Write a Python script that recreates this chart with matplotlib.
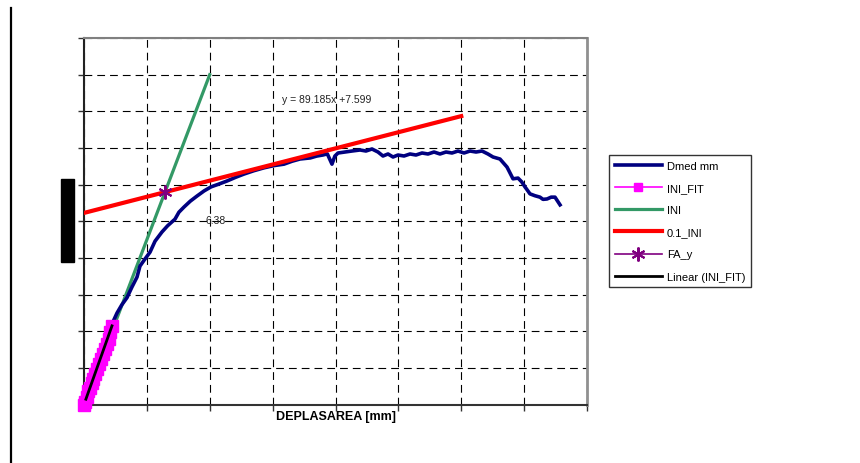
import matplotlib
matplotlib.use("Agg")
import matplotlib.pyplot as plt
from matplotlib.lines import Line2D
from matplotlib.patches import Rectangle

plt.rcParams['font.family'] = ['Liberation Sans', 'DejaVu Sans']

# ---- data (grid units) ----
dmed_x = [0.00, 0.10, 0.22, 0.33, 0.445, 0.525, 0.60, 0.684, 0.76, 0.843, 0.89, 0.96, 1.05,
          1.13, 1.24, 1.33, 1.447, 1.51, 1.590, 1.69, 1.797, 1.91, 2.020, 2.15,
          2.274, 2.41, 2.545, 2.70, 2.863, 3.02, 3.181, 3.31, 3.435, 3.60, 3.70, 3.801, 3.87,
          3.944, 3.99, 4.040, 4.151, 4.262, 4.390, 4.485, 4.580, 4.676, 4.755, 4.835, 4.915,
          4.994, 5.090, 5.185, 5.280, 5.376, 5.471, 5.567, 5.662, 5.757, 5.853, 5.948,
          6.044, 6.139, 6.235, 6.330, 6.425, 6.505,
          6.616, 6.728, 6.823, 6.903, 6.96, 7.014, 7.093, 7.17, 7.252, 7.30, 7.364, 7.43,
          7.491, 7.571]
dmed_y = [0.00, 0.50, 1.05, 1.60, 2.20, 2.50, 2.72, 2.92, 3.20, 3.48, 3.78, 3.95, 4.16,
          4.46, 4.71, 4.88, 5.06, 5.25, 5.39, 5.55, 5.69, 5.83, 5.94, 6.02,
          6.10, 6.20, 6.29, 6.38, 6.46, 6.52, 6.56, 6.64, 6.70, 6.73, 6.78, 6.81, 6.84,
          6.56, 6.78, 6.864, 6.891, 6.918, 6.946, 6.918, 6.973, 6.891, 6.782, 6.837, 6.755,
          6.809, 6.782, 6.837, 6.809, 6.864, 6.837, 6.891, 6.837, 6.891, 6.864, 6.918,
          6.864, 6.918, 6.891, 6.918, 6.837, 6.755,
          6.70, 6.48, 6.16, 6.18, 6.08, 5.94, 5.75, 5.70, 5.66, 5.60, 5.61, 5.66,
          5.66, 5.45]

ini_fit_x = [0.00, 0.02, 0.04, 0.07, 0.09, 0.12, 0.15, 0.18, 0.21, 0.24, 0.27, 0.30,
             0.33, 0.36, 0.39, 0.42, 0.45]
ini_fit_y = [0.00, 0.08, 0.22, 0.36, 0.45, 0.58, 0.70, 0.85, 0.98, 1.10, 1.25, 1.38,
             1.52, 1.66, 1.80, 1.97, 2.15]

ini_x = [0.0, 2.0]
ini_y = [0.0, 9.0]

tenth_x = [0.0, 6.0]
tenth_y = [5.23, 7.87]

fa_x = [1.288]
fa_y = [5.80]

lin_x = [0.03, 0.445]
lin_y = [0.15, 2.15]

eq_text = "y = 89.185x +7.599"
fa_text = "6.38"

# ---- figure ----
fig = plt.figure(figsize=(8.6, 4.64), dpi=100)
ax = fig.add_axes([84/860, 1 - 405.7/464, (587-84)/860, (405.7-39)/464])

ax.plot(dmed_x, dmed_y, color='#000080', lw=2.6, label='Dmed mm', zorder=3)
ax.plot(ini_fit_x, ini_fit_y, color='#FF00FF', lw=1.2, marker='s', markersize=8.5,
        markerfacecolor='#FF00FF', markeredgecolor='#FF00FF', label='INI_FIT', zorder=4,
        clip_on=False)
ax.plot(ini_x, ini_y, color='#339966', lw=2.3, label='INI', zorder=2)
ax.plot(tenth_x, tenth_y, color='#FF0000', lw=3.0, label='0.1_INI', zorder=3)
ax.plot(fa_x, fa_y, color='#800080', lw=1.2, marker=(6, 2, 0), markersize=10,
        markeredgewidth=1.5, label='FA_y', zorder=6)
ax.plot(lin_x, lin_y, color='black', lw=2.0, label='Linear (INI_FIT)', zorder=5)

ax.text(3.15, 8.34, eq_text, fontsize=7.5, color='#222222', va='center', ha='left')
ax.text(1.94, 5.04, fa_text, fontsize=7.5, color='#222222', va='center', ha='left')

ax.set_xlim(0, 8)
ax.set_ylim(0, 10)
ax.set_xticks(range(0, 9))
ax.set_yticks(range(0, 11))
ax.tick_params(labelbottom=False, labelleft=False, direction='out', length=4,
               width=1, color='#333333')
ax.grid(True, color='black', lw=0.8, linestyle=(0, (7, 4.5)))
ax.set_axisbelow(True)

ax.spines['left'].set_color('#222222')
ax.spines['left'].set_linewidth(1.5)
ax.spines['bottom'].set_color('#333333')
ax.spines['bottom'].set_linewidth(1.5)
ax.spines['top'].set_color('#808080')
ax.spines['top'].set_linewidth(1.5)
ax.spines['right'].set_color('#909090')
ax.spines['right'].set_linewidth(2)

fig.text(335.5/860, 1 - 417/464, "DEPLASAREA [mm]", fontsize=9, fontweight='bold',
         ha='center', va='center')

leg = ax.legend(loc='upper left', bbox_to_anchor=(609/860, 1 - 156/464),
                bbox_transform=fig.transFigure, fontsize=8, frameon=True,
                fancybox=False, edgecolor='black', handlelength=4.3, handletextpad=0.4,
                labelspacing=1.1, borderpad=0.5, borderaxespad=0)
leg.get_frame().set_linewidth(1.0)
for h in leg.legend_handles:
    if h.get_label() == 'INI_FIT':
        h.set_markersize(6)

# decorative elements of the original sheet
fig.add_artist(Line2D([11/860, 11/860], [1 - 9/464, 0], color='black', lw=1.6))
fig.add_artist(Rectangle((61/860, 1 - 263/464), 13/860, 83/464, color='black'))

fig.savefig('out.png', dpi=100)
